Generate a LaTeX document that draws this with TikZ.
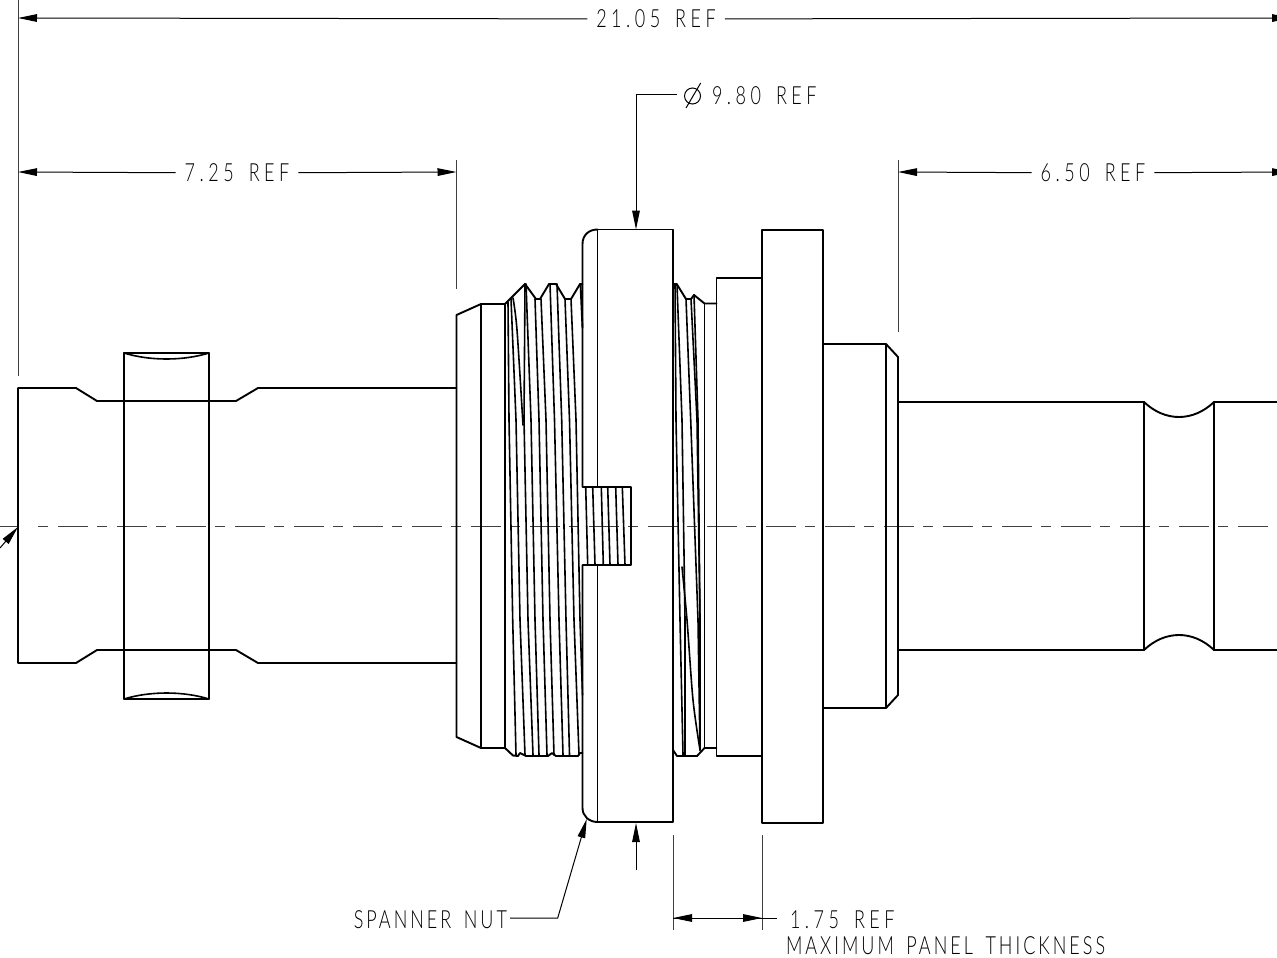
\documentclass[tikz,border=0pt]{standalone}
\usepackage{fontspec}
\usetikzlibrary{arrows.meta}
\newfontfamily\cadfont[FakeStretch=0.72,LetterSpace=18,WordSpace=1.6]{Lato Light}
\newfontfamily\cadwords[FakeStretch=0.72,LetterSpace=12,WordSpace=1.6]{Lato Light}
\tikzset{
  x=0.5pt,y=-0.5pt,
  part/.style={line width=0.95pt,line join=round,line cap=round},
  thread/.style={line width=0.8pt,line cap=round},
  dim/.style={line width=0.5pt,-{Stealth[inset=0pt,length=9.5pt,width=3.8pt]}},
  ext/.style={line width=0.5pt,black!75},
  center/.style={line width=0.5pt,black!75,dash pattern=on 5pt off 5pt on 15pt off 4.5pt},
  label/.style={font=\cadfont\fontsize{12.5}{13}\selectfont,inner sep=0pt,outer sep=4.5pt,text height=9pt,text depth=0pt},
  wordlabel/.style={label,font=\cadwords\fontsize{12.5}{13}\selectfont},
}
\begin{document}
\begin{tikzpicture}
\useasboundingbox (0,0) rectangle (1277,957);
\clip (0,0) rectangle (1277,957);
% centre line
\draw[center] (38,526) -- (1277,526);
\draw[ext] (0,526) -- (17,526);
% left body
\draw[part] (456.5,388) -- (258,388) -- (236,401) -- (97,401) -- (76,388) -- (18,388) -- (18,663) -- (76,663) -- (97,650) -- (236,650) -- (258,663) -- (456.5,663);
\draw[part] (124,353) rectangle (209,699);
\draw[thread] (124,353) .. controls (150,361) and (183,361) .. (209,353);
\draw[thread] (124,699) .. controls (150,691) and (183,691) .. (209,699);
% collar
\draw[part] (456.5,315) -- (481,304) -- (505,304) -- (505,748) -- (481,748) -- (456.5,737) -- cycle;
\draw[part] (481,304) -- (481,748);
% thread profile
\draw[part] (505,304) -- (525,284) -- (536,299) -- (540,299) -- (549,284) -- (556,284) -- (565,299) -- (571,299) -- (580,284) -- (582.5,284);
\draw[part] (505,748) -- (513,755.5) -- (518,756) -- (520,753) -- (526,756) -- (548,756) -- (552,753) -- (556,756) -- (578,756) -- (580,753) -- (582.5,753);
% thread helix lines
\foreach \a/\b/\c/\d/\e in {
  508/302/509/512.7/516,
  511/299/516/520/525,
  525/284/524/528/533,
  526/284/531/535/539,
  535/299/539/543/547,
  541/299/546/550/554,
  550/284/554.5/559/563,
  557/284/561.7/566/569.5,
  565/299/569.5/574/579}{
  \draw[thread] (\a,\b) -- (\c,420) -- (\d,620) -- (\e,755);
}
\draw[thread] plot[smooth] coordinates {(513,298) (517,330) (523,425)};
\draw[thread] (571,299) -- (576,420) -- (580,620) -- (582.5,695);
\draw[part] (580.5,284) -- (582.5,328);
% nut
\draw[part] (597.5,487) -- (597.5,229.5) -- (673,229.5) -- (673,822) -- (597.5,822) -- (597.5,565);
\draw[part] (597.5,229.5) .. controls (589,229.5) and (582.5,235) .. (582.5,244) -- (582.5,487) -- (631,487) -- (631,565) -- (582.5,565) -- (582.5,808) .. controls (582.5,816) and (589,822) .. (597.5,822);
\foreach \a/\b in {585.7/587.7,592.7/595,601.3/603.3,607.7/610,615.7/618,622.3/625}{
  \draw[thread] (\a,487) -- (\b,565);
}
% right threads
\draw[part] (673,284) -- (676.7,284) -- (686,299) -- (691,299) -- (694,295) -- (704.5,303.5) -- (716.5,303.5);
\draw[part] (673,750) -- (677,756) -- (697,756) -- (704.5,748) -- (716.5,748);
\draw[part] (704.5,303.5) -- (704.5,748);
\draw[thread] (675,284) -- (676,420) -- (680,620) -- (683,755);
\draw[thread] (677,285) -- (682,420) -- (685,620) -- (685,755);
\draw[thread] plot[smooth] coordinates {(682,567) (687,620) (693,700) (700,750)};
\draw[thread] (686,299) -- (690.7,420) -- (698,620) -- (700,750);
\draw[thread] (691,299) -- (697,420) -- (700,620) -- (700,750);
\draw[thread] (694,295) -- (698,420) -- (700,620);
% panel stack
\draw[part] (762,278) -- (716.5,278) -- (716.5,756) -- (762,756);
\draw[part] (762,230) rectangle (823,823);
\draw[part] (823,344) -- (886,344) -- (886,708) -- (823,708);
\draw[part] (886,344) -- (898,357) -- (898,695) -- (886,708);
% right pipe
\draw[part] (898,402) -- (1144,402) .. controls (1165,422) and (1193,422) .. (1214,402) -- (1277,402);
\draw[part] (898,650) -- (1144,650) .. controls (1165,630) and (1193,630) .. (1214,650) -- (1277,650);
\draw[part] (1144,402) -- (1144,650);
\draw[part] (1214,402) -- (1214,650);
% extension lines
\draw[ext] (18,0) -- (18,376);
\draw[ext] (456.5,160) -- (456.5,289);
\draw[ext] (898,160) -- (898,332);
\draw[ext] (673,835) -- (673,930);
\draw[ext] (762,835) -- (762,930);
% labels and dimensions
\coordinate (l0) at (18,18);
\coordinate (r0) at (1291,18);
\node[label] (d2105) at (656,19) {21.05 REF};
\draw[dim] (d2105) -- (l0);
\draw[dim] (d2105) -- (r0);
\coordinate (l1) at (18,172);
\coordinate (r1) at (456.5,172);
\node[label] (d725) at (237,173) {7.25 REF};
\draw[dim] (d725) -- (l1);
\draw[dim] (d725) -- (r1);
\coordinate (l2) at (898,172);
\coordinate (r2) at (1291,172);
\node[label] (d650) at (1093,173) {6.50 REF};
\draw[dim] (d650) -- (l2);
\draw[dim] (d650) -- (r2);
\node[label,anchor=west,outer sep=0pt] (d980) at (712,96) {9.80 REF};
\draw[line width=0.5pt] (692.5,96) circle (8);
\draw[line width=0.5pt] (686,108) -- (700.7,83);
\coordinate (t0) at (636,229.5);
\coordinate (t1) at (677,95);
\draw[dim] (t1) -- (636,95) -- (t0);
\coordinate (b0) at (636,870);
\coordinate (b1) at (636,823);
\draw[dim] (b0) -- (b1);
\node[wordlabel,anchor=east,outer sep=0pt] (span) at (507,919) {SPANNER NUT};
\coordinate (s1) at (586.7,819);
\draw[dim] (510,918) -- (557.7,918) -- (s1);
\coordinate (m0) at (673,918);
\coordinate (m1) at (762,918);
\coordinate (m2) at (777,918);
\draw[dim] (m2) -- (m0);
\draw[dim] (m0) -- (m1);
\node[label,anchor=west,outer sep=0pt] (d175) at (790,919) {1.75 REF};
\node[wordlabel,anchor=west,outer sep=0pt] (maxp) at (786,945) {MAXIMUM PANEL THICKNESS};
% leader at the left end
\coordinate (a0) at (0,548);
\coordinate (a1) at (18,527);
\draw[dim] (a0) -- (a1);
\end{tikzpicture}
\end{document}
